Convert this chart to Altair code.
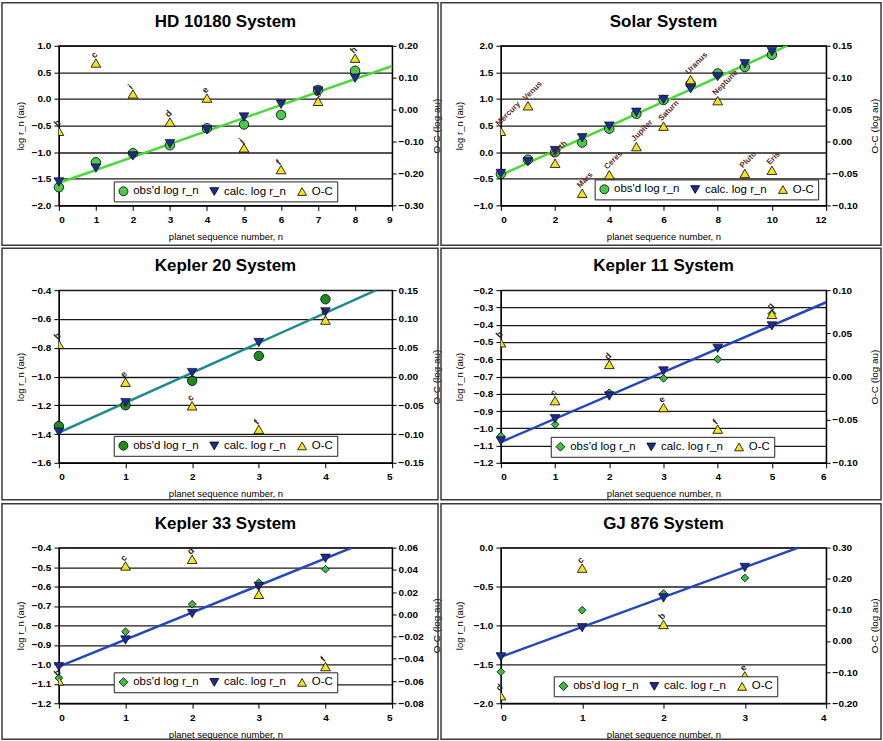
import altair as alt
import pandas as pd

# ---------------- data ----------------
SERIES = ["obs'd log r_n", "calc. log r_n", "O-C"]

hd_n = [0, 1, 2, 3, 4, 5, 6, 7, 8]
hd_obs = [-1.66, -1.19, -1.02, -0.87, -0.55, -0.48, -0.30, 0.17, 0.53]
hd_calc = [-1.56, -1.30, -1.07, -0.84, -0.58, -0.34, -0.10, 0.15, 0.39]
hd_oc = [-0.068, 0.146, 0.049, -0.039, 0.036, -0.120, -0.188, 0.026, 0.161]
hd_labels = ["b", "c", "i", "d", "e", "j", "f", "g", "h"]
hd_fit_n = [0, 9]
hd_fit_y = [-1.58, 0.62]
hd_xticks = [0, 1, 2, 3, 4, 5, 6, 7, 8, 9]
hd_yticks = [-2.0, -1.5, -1.0, -0.5, 0.0, 0.5, 1.0]
hd_octicks = [-0.30, -0.20, -0.10, 0.00, 0.10, 0.20]

sol_n = [0, 1, 2, 3, 4, 5, 6, 7, 8, 9, 10]
sol_obs = [-0.41, -0.14, 0.00, 0.18, 0.44, 0.72, 0.98, 1.28, 1.48, 1.60, 1.83]
sol_calc = [-0.40, -0.18, 0.03, 0.27, 0.49, 0.75, 0.99, 1.19, 1.42, 1.66, 1.89]
sol_oc = [0.016, 0.056, -0.034, -0.081, -0.052, -0.008, 0.024, 0.097, 0.064, -0.050, -0.045]
sol_labels = ["Mercury", "Venus", "Earth", "Mars", "Ceres", "Jupiter", "Saturn",
              "Uranus", "Neptune", "Pluto", "Eris"]
sol_fit_n = [0, 10.57]
sol_fit_y = [-0.43, 2.0]
sol_xticks = [0, 2, 4, 6, 8, 10, 12]
sol_yticks = [-1.0, -0.5, 0.0, 0.5, 1.0, 1.5, 2.0]
sol_octicks = [-0.10, -0.05, 0.00, 0.05, 0.10, 0.15]

k20_n = [0, 1, 2, 3, 4]
k20_obs = [-1.345, -1.20, -1.03, -0.857, -0.463]
k20_calc = [-1.387, -1.182, -0.973, -0.764, -0.551]
k20_oc = [0.056, -0.010, -0.051, -0.092, 0.098]
k20_labels = ["b", "e", "c", "f", "d"]
k20_fit_n = [0, 4.76]
k20_fit_y = [-1.39, -0.40]
k20_xticks = [0, 1, 2, 3, 4, 5]
k20_yticks = [-1.6, -1.4, -1.2, -1.0, -0.8, -0.6, -0.4]
k20_octicks = [-0.15, -0.10, -0.05, 0.00, 0.05, 0.10, 0.15]

k11_n = [0, 1, 2, 3, 4, 5]
k11_obs = [-1.045, -0.978, -0.794, -0.711, -0.600, -0.335]
k11_calc = [-1.074, -0.945, -0.813, -0.668, -0.537, -0.407]
k11_oc = [0.039, -0.028, 0.014, -0.036, -0.061, 0.072]
k11_labels = ["b", "c", "d", "e", "f", "g"]
k11_fit_n = [0, 6]
k11_fit_y = [-1.08, -0.27]
k11_xticks = [0, 1, 2, 3, 4, 5, 6]
k11_yticks = [-1.2, -1.1, -1.0, -0.9, -0.8, -0.7, -0.6, -0.5, -0.4, -0.3, -0.2]
k11_octicks = [-0.10, -0.05, 0.00, 0.05, 0.10]

k33_n = [0, 1, 2, 3, 4]
k33_obs = [-1.07, -0.832, -0.691, -0.580, -0.511]
k33_calc = [-1.012, -0.875, -0.739, -0.600, -0.455]
k33_oc = [-0.060, 0.0435, 0.0495, 0.018, -0.047]
k33_labels = ["b", "c", "d", "e", "f"]
k33_fit_n = [0, 4.4]
k33_fit_y = [-1.012, -0.40]
k33_xticks = [0, 1, 2, 3, 4, 5]
k33_yticks = [-1.2, -1.1, -1.0, -0.9, -0.8, -0.7, -0.6, -0.5, -0.4]
k33_octicks = [-0.08, -0.06, -0.04, -0.02, 0.00, 0.02, 0.04, 0.06]

gj_n = [0, 1, 2, 3]
gj_obs = [-1.596, -0.804, -0.59, -0.39]
gj_calc = [-1.404, -1.03, -0.647, -0.255]
gj_oc = [-0.176, 0.234, 0.053, -0.112]
gj_labels = ["d", "c", "b", "e"]
gj_fit_n = [0, 3.66]
gj_fit_y = [-1.404, 0.0]
gj_xticks = [0, 1, 2, 3, 4]
gj_yticks = [-2.0, -1.5, -1.0, -0.5, 0.0]
gj_octicks = [-0.20, -0.10, 0.00, 0.10, 0.20, 0.30]

# ---------------- styling ----------------
FONT = "Liberation Sans"
CALC_COLOR = "#1f2b94"
OC_COLOR = "#f3e31c"


def panel(title, n, obs, calc, oc, labels, fit_n, fit_y, xticks, yticks, octicks,
          w, h, box, obs_shape, obs_color, obs_size, line_color, leg_xy, lab_color,
          lab_size, ltx, rtx):
    pts_obs = pd.DataFrame({"n": n, "v": obs, "series": [SERIES[0]] * len(n)})
    pts_calc = pd.DataFrame({"n": n, "v": calc, "series": [SERIES[1]] * len(n)})
    ocdf = pd.DataFrame({"n": n, "oc": oc, "label": labels, "series": [SERIES[2]] * len(n)})
    fit = pd.DataFrame({"n": fit_n, "v": fit_y})
    one = pd.DataFrame({"k": [0]})

    xs = alt.Scale(domain=[xticks[0], xticks[-1]], nice=False, zero=False)
    xaxis = alt.Axis(values=xticks, format="d", title="planet sequence number, n",
                     grid=False, tickSize=5, labelPadding=4, titleFontSize=9.5,
                     titleX=w / 2, titleY=31, titleBaseline="middle")
    ys = alt.Scale(domain=[yticks[0], yticks[-1]], nice=False, zero=False)
    yaxis = alt.Axis(orient="left", values=yticks, format=".1f", title="log r_n (au)",
                     grid=True, gridColor="#1a1a1a", gridWidth=1.3, tickSize=5,
                     labelPadding=3, titleFontSize=9.5, titleX=ltx, titleY=h / 2,
                     titleAngle=270, titleBaseline="middle")
    y2s = alt.Scale(domain=[octicks[0], octicks[-1]], nice=False, zero=False)
    y2axis = alt.Axis(orient="right", values=octicks, format=".2f", title="O-C (log au)",
                      grid=False, tickSize=4, labelPadding=2, titleFontSize=10,
                      titleX=rtx, titleY=h / 2, titleAngle=270, titleBaseline="middle")

    legend = alt.Legend(orient="none", legendX=leg_xy[0], legendY=leg_xy[1],
                        direction="horizontal", title=None, strokeColor="#222222",
                        fillColor="white", padding=4, labelFont=FONT, labelFontSize=11.5,
                        labelColor="black", symbolSize=80, symbolStrokeColor="black",
                        symbolStrokeWidth=0.8, columnPadding=9, labelOffset=4)
    color = alt.Color("series:N", scale=alt.Scale(domain=SERIES,
                      range=[obs_color, CALC_COLOR, OC_COLOR]), legend=legend)
    shape = alt.Shape("series:N", scale=alt.Scale(domain=SERIES,
                      range=[obs_shape, "triangle-down", "triangle-up"]), legend=legend)

    X = alt.X("n:Q", scale=xs, axis=xaxis)
    Y = alt.Y("v:Q", scale=ys, axis=yaxis)
    Y2 = alt.Y("oc:Q", scale=y2s, axis=y2axis)

    frame = alt.Chart(one).mark_rect(fillOpacity=0, stroke="#3a3a3a", strokeWidth=1.5).encode(
        x=alt.value(box[0]), x2=alt.value(w + box[1]),
        y=alt.value(box[2]), y2=alt.value(h + box[3]))
    ttl = alt.Chart(one).mark_text(text=title, font=FONT, fontSize=17, fontWeight="bold",
                                   color="black", baseline="middle").encode(
        x=alt.value(w / 2), y=alt.value(-24))
    line = alt.Chart(fit).mark_line(color=line_color, strokeWidth=2.5, clip=True).encode(x=X, y=Y)
    p_obs = alt.Chart(pts_obs).mark_point(filled=True, opacity=1, stroke="black",
                                           strokeWidth=0.8, size=obs_size).encode(
        x=X, y=Y, color=color, shape=shape)
    p_calc = alt.Chart(pts_calc).mark_point(filled=True, opacity=1, stroke="black",
                                             strokeWidth=0.6, size=95).encode(
        x=X, y=Y, color=color, shape=shape)
    left = alt.layer(frame, ttl, line, p_obs, p_calc)

    p_oc = alt.Chart(ocdf).mark_point(filled=True, opacity=1, stroke="black",
                                       strokeWidth=0.8, size=95, clip=True).encode(
        x=X, y=Y2, color=color, shape=shape)
    t_oc = alt.Chart(ocdf).mark_text(angle=315, align="left", baseline="middle", dx=2, dy=-7,
                                     font=FONT, fontSize=lab_size, fontWeight="bold",
                                     color=lab_color).encode(x=X, y=Y2, text="label:N")
    right = alt.layer(p_oc, t_oc)

    return alt.layer(left, right).resolve_scale(y="independent").properties(width=w, height=h)


WL, WR = 334, 326
BL = (-57, 46)
BR = (-60, 55)
H1, H2, H3 = 160, 173, 156
R1 = (-43, 40)
R2 = (-42, 37)
R3 = (-44, 36)

p_hd = panel("HD 10180 System", hd_n, hd_obs, hd_calc, hd_oc, hd_labels, hd_fit_n, hd_fit_y,
             hd_xticks, hd_yticks, hd_octicks, WL, H1, BL + R1, "circle", "#4cc94c", 90,
             "#4cd83a", (55, 136), "#2a2222", 9, -38, 44)
p_sol = panel("Solar System", sol_n, sol_obs, sol_calc, sol_oc, sol_labels, sol_fit_n, sol_fit_y,
              sol_xticks, sol_yticks, sol_octicks, WR, H1, BR + R1, "circle", "#4cc94c", 90,
              "#4cd83a", (94, 134), "#5c2a2a", 8, -41, 48)
p_k20 = panel("Kepler 20 System", k20_n, k20_obs, k20_calc, k20_oc, k20_labels, k20_fit_n,
              k20_fit_y, k20_xticks, k20_yticks, k20_octicks, WL, H2, BL + R2, "circle",
              "#1c8c1c", 90, "#1b8a8a", (55, 146), "#2a2222", 9, -38, 44)
p_k11 = panel("Kepler 11 System", k11_n, k11_obs, k11_calc, k11_oc, k11_labels, k11_fit_n,
              k11_fit_y, k11_xticks, k11_yticks, k11_octicks, WR, H2, BR + R2, "diamond",
              "#3cbf3c", 60, "#2446b8", (50, 147), "#2a2222", 9, -41, 48)
p_k33 = panel("Kepler 33 System", k33_n, k33_obs, k33_calc, k33_oc, k33_labels, k33_fit_n,
              k33_fit_y, k33_xticks, k33_yticks, k33_octicks, WL, H3, BL + R3, "diamond",
              "#3cbf3c", 60, "#2446b8", (55, 125), "#2a2222", 9, -38, 44)
p_gj = panel("GJ 876 System", gj_n, gj_obs, gj_calc, gj_oc, gj_labels, gj_fit_n, gj_fit_y,
             gj_xticks, gj_yticks, gj_octicks, WR, H3, BR + R3, "diamond", "#3cbf3c", 60,
             "#2446b8", (53, 129), "#2a2222", 9, -41, 48)

chart = (alt.concat(p_hd, p_sol, p_k20, p_k11, p_k33, p_gj, columns=2,
                    spacing={"row": 85, "column": 109}, bounds="flush")
         .resolve_scale(color="independent", shape="independent")
         .resolve_legend(color="independent", shape="independent")
         .properties(padding=0, background="white")
         .configure_view(stroke="black", strokeWidth=1.3)
         .configure_axis(labelFont=FONT, labelFontSize=10, labelFontWeight="bold",
                         labelColor="black", titleFont=FONT, titleFontWeight="normal",
                         titleColor="black", tickColor="black", domainColor="black",
                         domainWidth=1.2))

chart.save("out.html", embed_options={"renderer": "svg", "actions": False})
